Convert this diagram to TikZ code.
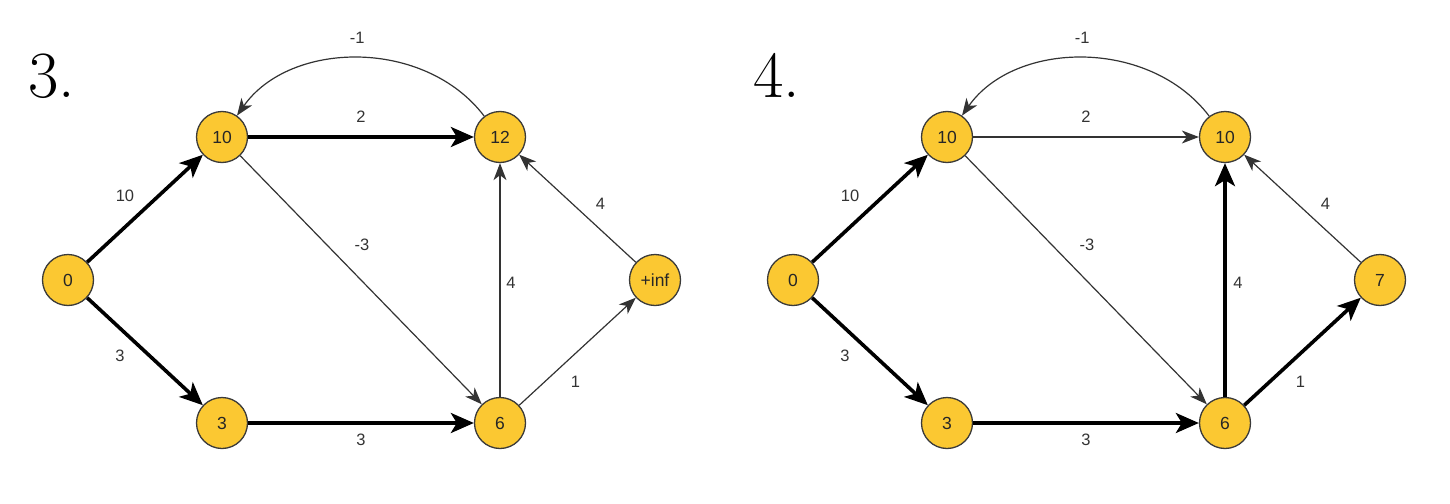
\documentclass[tikz,border=0pt]{standalone}
\usepackage{fontspec}
\setmainfont{Liberation Sans}
\newfontfamily\lmfont{Latin Modern Roman}
\usetikzlibrary{arrows.meta}
\definecolor{nodefill}{HTML}{FBC832}
\definecolor{nodeline}{HTML}{3A3A3A}
\definecolor{thinline}{HTML}{333333}
\definecolor{lbltext}{HTML}{333333}
\tikzset{
  vtx/.style={circle, draw=nodeline, line width=1.3pt, fill=nodefill, minimum size=51pt, inner sep=0pt, font=\fontsize{17.5}{17.5}\selectfont, text=black!85},
  thinedge/.style={draw=thinline, line width=1.2pt, -{Stealth[length=17pt,width=13pt,inset=5pt]}},
  boldedge/.style={draw=black, line width=3.6pt, -{Stealth[length=23pt,width=20pt,inset=6pt]}},
  lbl/.style={font=\fontsize{16.5}{16.5}\selectfont, text=lbltext, inner sep=0pt},
  title/.style={font=\lmfont\fontsize{66}{66}\selectfont, anchor=base west, inner sep=0pt}
}
\begin{document}
\begin{tikzpicture}[x=1pt,y=-1pt]
\useasboundingbox (0,0) rectangle (1450,503);
% ---------- Graph 3 ----------
\node[title] (t3) at (28,97) {3.};
\node[vtx] (a0) at (68,280) {0};
\node[vtx] (a10) at (222,137) {10};
\node[vtx] (a12) at (500,137) {12};
\node[vtx] (a3) at (222,423) {3};
\node[vtx] (a6) at (500,423) {6};
\node[vtx] (ainf) at (655,280) {+inf};
\draw[boldedge] (a0) -- node[lbl, xshift=-20pt, yshift=13pt] {10} (a10);
\draw[boldedge] (a0) -- node[lbl, xshift=-25pt, yshift=-4pt] {3} (a3);
\draw[boldedge] (a10) -- node[lbl, yshift=20pt] {2} (a12);
\draw[boldedge] (a3) -- node[lbl, yshift=-17pt] {3} (a6);
\draw[thinedge] (a10) -- node[lbl, xshift=1pt, yshift=35pt] {-3} (a6);
\draw[thinedge] (a6) -- node[lbl, xshift=11pt, yshift=-3pt] {4} (a12);
\draw[thinedge] (a6) -- node[lbl, xshift=-2pt, yshift=-30pt] {1} (ainf);
\draw[thinedge] (ainf) -- node[lbl, xshift=23pt, yshift=5pt] {4} (a12);
\draw[thinedge] (a12) .. controls (425,38) and (290,40) .. node[lbl, xshift=-1pt, yshift=20pt] {-1} (a10);
% ---------- Graph 4 ----------
\node[title] (t4) at (753,97) {4.};
\node[vtx] (b0) at (793,280) {0};
\node[vtx] (b10) at (947,137) {10};
\node[vtx] (b12) at (1225,137) {10};
\node[vtx] (b3) at (947,423) {3};
\node[vtx] (b6) at (1225,423) {6};
\node[vtx] (b7) at (1380,280) {7};
\draw[boldedge] (b0) -- node[lbl, xshift=-20pt, yshift=13pt] {10} (b10);
\draw[boldedge] (b0) -- node[lbl, xshift=-25pt, yshift=-4pt] {3} (b3);
\draw[thinedge] (b10) -- node[lbl, yshift=20pt] {2} (b12);
\draw[boldedge] (b3) -- node[lbl, yshift=-17pt] {3} (b6);
\draw[thinedge] (b10) -- node[lbl, xshift=1pt, yshift=35pt] {-3} (b6);
\draw[boldedge] (b6) -- node[lbl, xshift=13pt, yshift=-3pt] {4} (b12);
\draw[boldedge] (b6) -- node[lbl, xshift=-2pt, yshift=-30pt] {1} (b7);
\draw[thinedge] (b7) -- node[lbl, xshift=23pt, yshift=5pt] {4} (b12);
\draw[thinedge] (b12) .. controls (1150,38) and (1015,40) .. node[lbl, xshift=-1pt, yshift=20pt] {-1} (b10);
\end{tikzpicture}
\end{document}
